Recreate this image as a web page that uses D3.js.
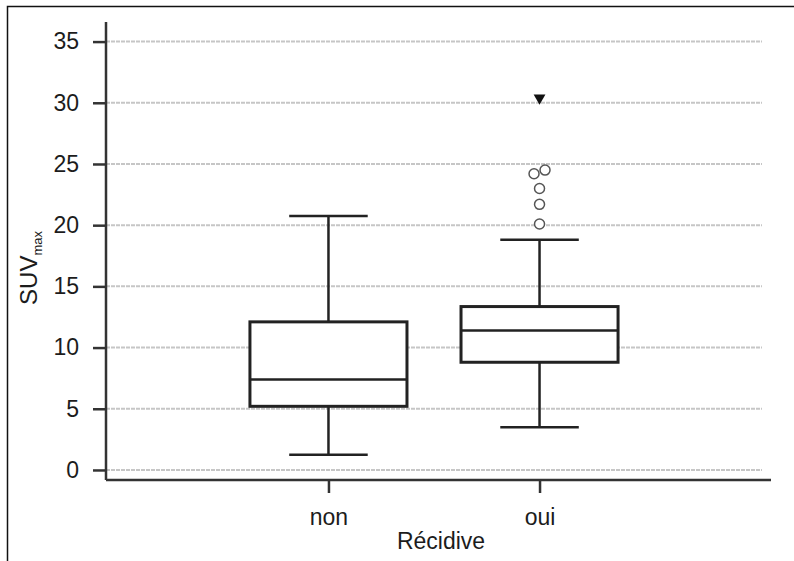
<!DOCTYPE html>
<html>
<head>
<meta charset="utf-8">
<script src="https://cdn.jsdelivr.net/npm/d3@7"></script>
<style>
  body { margin: 0; background: #fff; }
  text { font-family: "Liberation Sans", Arial, sans-serif; fill: #1c1c1c; }
</style>
</head>
<body>
<div id="chart"></div>
<script>
// box plot summary per group
const categories = ["non", "oui"];
const whiskerLow = [1.25, 3.5];
const q1 = [5.2, 8.8];
const median = [7.4, 11.4];
const q3 = [12.1, 13.35];
const whiskerHigh = [20.75, 18.8];
const outlierCat = ["oui", "oui", "oui", "oui", "oui"];
const outlierVal = [20.1, 21.7, 23.0, 24.2, 24.5];
const extremeCat = ["oui"];
const extremeVal = [30.4];
const yTicks = [0, 5, 10, 15, 20, 25, 30, 35];

const W = 794, H = 561;
const margin = { top: 22, left: 106 };
const plotW = 656, plotH = 458;

const svg = d3.select("#chart").append("svg")
    .attr("width", W).attr("height", H);

// outer frame (top + left only)
svg.append("path")
    .attr("d", `M7.5,${H} L7.5,6.5 L${W},6.5`)
    .attr("fill", "none").attr("stroke", "#111").attr("stroke-width", 1.5);

const g = svg.append("g").attr("transform", `translate(${margin.left},${margin.top})`);

const x = d3.scalePoint().domain(categories).range([0, plotW]).padding(1.054);
const y = d3.scaleLinear().domain([-0.82, 36.6]).range([plotH, 0]);

const boxW = x.step() * 0.744;
const capW = boxW / 2;

// gridlines
g.selectAll(".grid").data(yTicks).enter().append("line")
    .attr("x1", 0).attr("x2", plotW)
    .attr("y1", d => y(d)).attr("y2", d => y(d))
    .attr("stroke", "#c6c6c6").attr("stroke-width", 2)
    .attr("stroke-dasharray", "4,1");

// y axis
const yAxis = g.append("g")
    .call(d3.axisLeft(y).tickValues(yTicks).tickSize(13).tickPadding(14).tickSizeOuter(0));
yAxis.select(".domain").remove();
yAxis.selectAll(".tick line").attr("stroke", "#333").attr("stroke-width", 2.5);
yAxis.selectAll(".tick text").style("font-size", "23px").attr("fill", "#1c1c1c");
g.append("line").attr("x1", 0).attr("x2", 0).attr("y1", 0).attr("y2", plotH)
    .attr("stroke", "#333").attr("stroke-width", 2.5);

// x axis
const xAxis = g.append("g").attr("transform", `translate(0,${plotH})`)
    .call(d3.axisBottom(x).tickSize(13).tickPadding(16));
xAxis.select(".domain").remove();
xAxis.selectAll(".tick line").attr("stroke", "#333").attr("stroke-width", 2.5);
xAxis.selectAll(".tick text").style("font-size", "23px").attr("fill", "#1c1c1c");
g.append("line").attr("x1", 0).attr("x2", plotW + 9).attr("y1", plotH).attr("y2", plotH)
    .attr("stroke", "#333").attr("stroke-width", 2.5);

// axis titles
g.append("text")
    .attr("x", 335).attr("y", plotH + 69)
    .attr("text-anchor", "middle")
    .style("font-size", "23px")
    .text("Récidive");

const yl = svg.append("text")
    .attr("transform", "translate(37,268) rotate(-90)")
    .attr("text-anchor", "middle")
    .style("font-size", "24px");
yl.append("tspan").text("SUV");
yl.append("tspan").attr("dy", 5).style("font-size", "13px").text("max");

// boxes
const boxes = categories.map((c, i) => ({
    cat: c, lo: whiskerLow[i], q1: q1[i], med: median[i], q3: q3[i], hi: whiskerHigh[i]
}));
const bx = g.selectAll(".box").data(boxes).enter().append("g")
    .attr("transform", d => `translate(${x(d.cat)},0)`);
const stroke = "#222";
bx.append("line").attr("x1", 0).attr("x2", 0)
    .attr("y1", d => y(d.q3)).attr("y2", d => y(d.hi))
    .attr("stroke", stroke).attr("stroke-width", 2.5);
bx.append("line").attr("x1", 0).attr("x2", 0)
    .attr("y1", d => y(d.q1)).attr("y2", d => y(d.lo))
    .attr("stroke", stroke).attr("stroke-width", 2.5);
bx.append("line").attr("x1", -capW / 2).attr("x2", capW / 2)
    .attr("y1", d => y(d.hi)).attr("y2", d => y(d.hi))
    .attr("stroke", stroke).attr("stroke-width", 2.5);
bx.append("line").attr("x1", -capW / 2).attr("x2", capW / 2)
    .attr("y1", d => y(d.lo)).attr("y2", d => y(d.lo))
    .attr("stroke", stroke).attr("stroke-width", 2.5);
bx.append("rect")
    .attr("x", -boxW / 2).attr("width", boxW)
    .attr("y", d => y(d.q3)).attr("height", d => y(d.q1) - y(d.q3))
    .attr("fill", "#fff").attr("stroke", stroke).attr("stroke-width", 3);
bx.append("line").attr("x1", -boxW / 2).attr("x2", boxW / 2)
    .attr("y1", d => y(d.med)).attr("y2", d => y(d.med))
    .attr("stroke", stroke).attr("stroke-width", 2.5);

// outliers, dodge sideways when two overlap
const r = 5;
const outliers = outlierVal.map((v, i) => ({ cat: outlierCat[i], value: v, dx: 0 }));
for (let i = 1; i < outliers.length; i++) {
    const a = outliers[i - 1], b = outliers[i];
    if (a.cat === b.cat && Math.abs(y(a.value) - y(b.value)) < 2 * r) {
        a.dx = -r - 0.5;
        b.dx = r + 0.5;
    }
}
g.selectAll(".out").data(outliers).enter().append("circle")
    .attr("cx", d => x(d.cat) + d.dx).attr("cy", d => y(d.value)).attr("r", r)
    .attr("fill", "#fff").attr("stroke", "#555").attr("stroke-width", 1.5);

// extreme values, filled down triangle
g.selectAll(".ext").data(extremeVal).enter().append("path")
    .attr("d", d3.symbol().type(d3.symbolTriangle).size(60))
    .attr("transform", (d, i) => `translate(${x(extremeCat[i])},${y(d)}) rotate(180)`)
    .attr("fill", "#111");
</script>
</body>
</html>
